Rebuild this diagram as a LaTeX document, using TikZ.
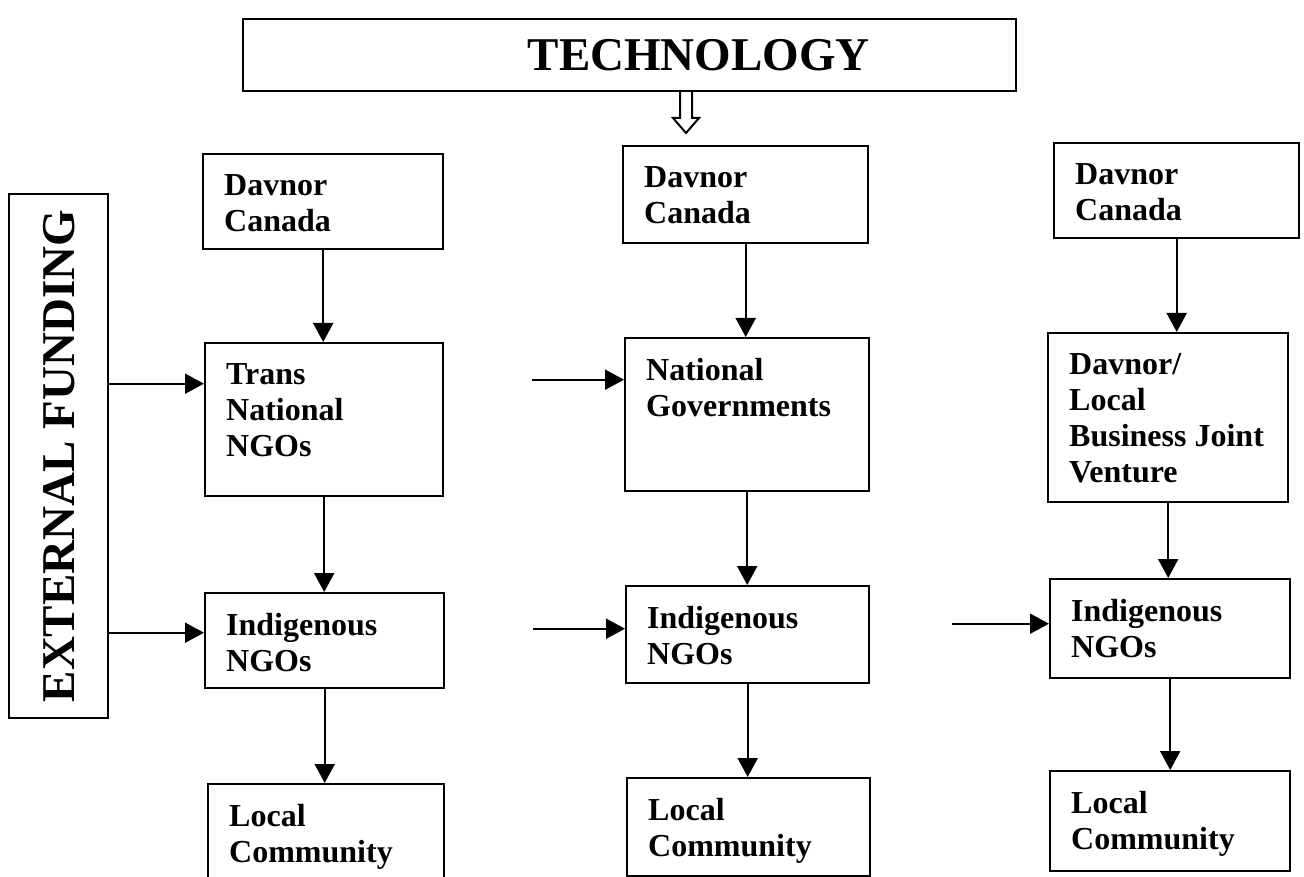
\documentclass[tikz,border=0pt]{standalone}
\usepackage{fontspec}
\setmainfont{Liberation Serif}
\usetikzlibrary{arrows.meta}

% box text: top-left aligned, fixed box size
\newcommand{\boxtext}[3]{\parbox[c][\dimexpr#2pt-40pt\relax][t]{\dimexpr#1pt-42pt\relax}{\raggedright #3}}

\tikzset{
    orgbox/.style={draw, line width=2.4pt, anchor=north west, inner xsep=21pt, inner ysep=20pt,
        font=\bfseries\fontsize{32}{36}\selectfont},
    bigbox/.style={draw, line width=2.4pt, anchor=north west, inner sep=0pt},
    bigtext/.style={font=\bfseries\fontsize{47}{50}\selectfont},
    flow/.style={line width=2pt, -{Triangle[length=19pt,width=20pt]}},
}

\begin{document}
\begin{tikzpicture}[x=1pt, y=-1pt]
    \useasboundingbox (0,0) rectangle (1304,877);

    % Technology and funding
    \node[bigbox, minimum width=773pt, minimum height=72pt,
        label={[bigtext, xshift=69pt]center:TECHNOLOGY}] (tech) at (242,18) {};
    \node[bigbox, minimum width=99pt, minimum height=524pt,
        label={[bigtext, rotate=90]center:EXTERNAL FUNDING}] (ext) at (8,193) {};
    \draw[line width=2pt] (680,90) -- (680,118) -- (673,118) -- (686,133) -- (699,118) -- (692,118) -- (692,90);

    % Left column
    \node[orgbox] (d1) at (202,153) {\boxtext{240}{95}{Davnor\\Canada}};
    \node[orgbox] (tr) at (204,342) {\boxtext{238}{153}{Trans\\National\\NGOs}};
    \node[orgbox] (i1) at (204,592) {\boxtext{239}{95}{Indigenous\\NGOs}};
    \node[orgbox] (l1) at (207,783) {\boxtext{236}{100}{Local\\Community}};

    % Middle column
    \node[orgbox] (d2) at (622,145) {\boxtext{245}{97}{Davnor\\Canada}};
    \node[orgbox] (ng) at (624,337) {\boxtext{244}{153}{National\\Governments}};
    \node[orgbox] (i2) at (625,585) {\boxtext{243}{97}{Indigenous\\NGOs}};
    \node[orgbox] (l2) at (626,777) {\boxtext{243}{98}{Local\\Community}};

    % Right column
    \node[orgbox] (d3) at (1053,142) {\boxtext{245}{95}{Davnor\\Canada}};
    \node[orgbox] (jv) at (1047,332) {\boxtext{240}{169}{Davnor/\\Local\\Business~Joint\\Venture}};
    \node[orgbox] (i3) at (1049,578) {\boxtext{240}{99}{Indigenous\\NGOs}};
    \node[orgbox] (l3) at (1049,770) {\boxtext{240}{100}{Local\\Community}};

    % Down arrows
    \draw[flow] (d1.south) -- (d1.south |- tr.north);
    \draw[flow] (tr.south) -- (tr.south |- i1.north);
    \draw[flow] (i1.south) -- (i1.south |- l1.north);
    \draw[flow] (d2.south) -- (d2.south |- ng.north);
    \draw[flow] (ng.south) -- (ng.south |- i2.north);
    \draw[flow] (i2.south) -- (i2.south |- l2.north);
    \draw[flow] (d3.south) -- (d3.south |- jv.north);
    \draw[flow] (jv.south) -- (jv.south |- i3.north);
    \draw[flow] (i3.south) -- (i3.south |- l3.north);

    % Side arrows
    \coordinate (f1) at ([yshift=36pt]tr.west);
    \coordinate (f2) at ([yshift=8pt]i1.west);
    \coordinate (g1) at ([yshift=35pt]ng.west);
    \coordinate (g2) at ([yshift=6pt]i2.west);
    \coordinate (h2) at ([yshift=5pt]i3.west);
    \draw[flow] (ext.east |- f1) -- (f1);
    \draw[flow] (ext.east |- f2) -- (f2);
    \draw[flow] (532,0 |- g1) -- (g1);
    \draw[flow] (533,0 |- g2) -- (g2);
    \draw[flow] (952,0 |- h2) -- (h2);
\end{tikzpicture}
\end{document}
